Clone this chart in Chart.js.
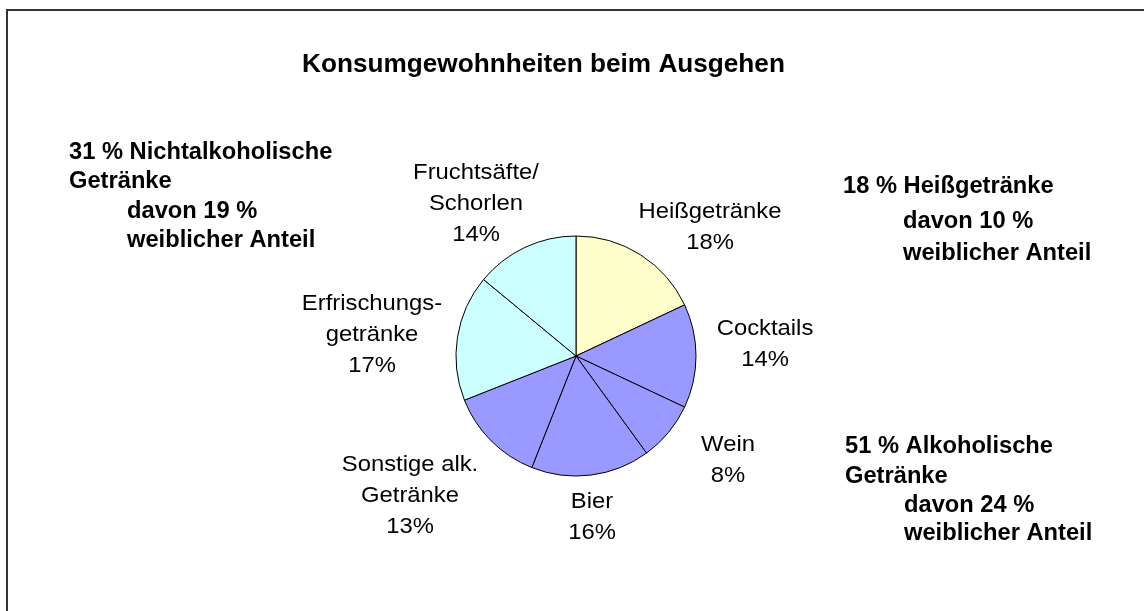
<!DOCTYPE html>
<html lang="de">
<head>
<meta charset="utf-8">
<title>Konsumgewohnheiten beim Ausgehen</title>
<script src="https://cdn.jsdelivr.net/npm/chart.js@4.4.1/dist/chart.umd.min.js"></script>
<style>
    html, body { margin: 0; padding: 0; background: #ffffff; }
    #wrap { position: relative; width: 1144px; height: 611px; }
</style>
</head>
<body>
<div id="wrap"><canvas id="pie-chart"></canvas></div>
<script>
    "use strict";

    // chart data
    const chartTitle = "Konsumgewohnheiten beim Ausgehen";
    const categories = ["Heißgetränke", "Cocktails", "Wein", "Bier", "Sonstige alk.\nGetränke", "Erfrischungs-\ngetränke", "Fruchtsäfte/\nSchorlen"];
    const shares = [18, 14, 8, 16, 13, 17, 14];

    // group notes beside the pie
    const notesNonAlcoholic = ["31 % Nichtalkoholische", "Getränke", "davon 19 %", "weiblicher Anteil"];
    const notesHot = ["18 % Heißgetränke", "davon 10 %", "weiblicher Anteil"];
    const notesAlcoholic = ["51 % Alkoholische", "Getränke", "davon 24 %", "weiblicher Anteil"];

    const sliceColors = ['#ffffcc', '#9999ff', '#9999ff', '#9999ff', '#9999ff', '#ccffff', '#ccffff'];

    // where each slice label sits, relative to the pie centre (block middle)
    const labelOffsets = [[134, -123], [189, -6], [152, 110], [16, 167], [-166, 146], [-204, -15], [-100, -146]];

    /**
     * Draws text stretched horizontally like the original rendering
     */
    function drawText(ctx, txt, x, y, font, stretch, align) {
        ctx.save();
        ctx.translate(x, y);
        ctx.scale(stretch, 1);
        ctx.font = font;
        ctx.textAlign = align;
        ctx.textBaseline = 'alphabetic';
        ctx.fillStyle = '#000000';
        ctx.fillText(txt, 0, 0);
        ctx.restore();
    }

    const textLayer = {
        id: 'textLayer',
        afterDraw(chart) {
            const ctx = chart.ctx;
            const arcs = chart.getDatasetMeta(0).data;

            // frame
            ctx.save();
            ctx.strokeStyle = '#333333';
            ctx.lineWidth = 2;
            ctx.beginPath();
            ctx.moveTo(1144, 10);
            ctx.lineTo(7, 10);
            ctx.lineTo(7, 611);
            ctx.stroke();
            ctx.restore();

            drawText(ctx, chartTitle, 543.5, 71.5, 'bold 25px "Liberation Sans", Arial, sans-serif', 1.047, 'center');

            // slice labels
            const lineH = 31;
            arcs.forEach((arc, i) => {
                const lines = categories[i].split('\n').concat([shares[i] + '%']);
                const cx = arc.x + labelOffsets[i][0];
                const mid = arc.y + labelOffsets[i][1];
                const first = mid - (lines.length - 1) * lineH / 2;
                lines.forEach((ln, k) => {
                    drawText(ctx, ln, cx, first + k * lineH, '22px "Liberation Sans", Arial, sans-serif', 1.083, 'center');
                });
            });

            // group notes
            const bold = 'bold 23px "Liberation Sans", Arial, sans-serif';
            const place = (lines, pos) => {
                lines.forEach((ln, k) => drawText(ctx, ln, pos[k][0], pos[k][1], bold, 1.03, 'left'));
            };
            place(notesNonAlcoholic, [[69, 159], [69, 188], [127, 218], [127, 247]]);
            place(notesHot, [[843, 193], [903, 228], [903, 260]]);
            place(notesAlcoholic, [[845, 453], [845, 483], [904, 512], [904, 540]]);
        }
    };

    new Chart(document.getElementById('pie-chart'), {
        type: 'pie',
        data: {
            labels: categories,
            datasets: [{
                data: shares,
                backgroundColor: sliceColors,
                borderColor: '#000000',
                borderWidth: 1
            }]
        },
        options: {
            animation: false,
            responsive: true,
            maintainAspectRatio: false,
            layout: {
                padding: { left: 455.5, right: 447.5, top: 235.5, bottom: 134.5 }
            },
            plugins: {
                legend: { display: false },
                tooltip: { enabled: false },
                title: { display: false }
            }
        },
        plugins: [textLayer]
    });
</script>
</body>
</html>
